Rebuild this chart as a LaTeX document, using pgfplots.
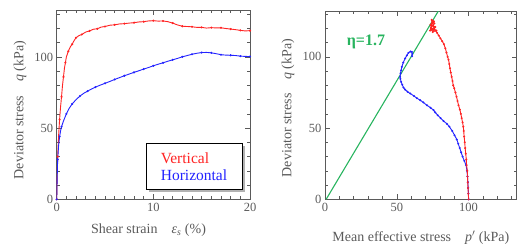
\documentclass[border=0pt]{standalone}
\usepackage{pgfplots}
\pgfplotsset{compat=1.18}
\usepackage{fontspec}
\setmainfont{Liberation Serif}
\usetikzlibrary{shadows}
\definecolor{txt}{RGB}{90,90,90}
\definecolor{vred}{RGB}{255,35,35}
\definecolor{hblue}{RGB}{35,35,255}
\definecolor{cslg}{RGB}{40,180,95}
\begin{document}
\begin{tikzpicture}
\path[use as bounding box] (0pt,0pt) rectangle (519pt,244pt);
\pgfplotsset{
  every axis/.append style={
    scale only axis,
    axis line style={txt, line width=0.8pt},
    tick style={txt, line width=0.6pt},
    tick align=inside, tick pos=both,
    major tick length=5pt, minor tick length=3pt,
    ticklabel style={font=\fontsize{12.5}{13}\selectfont, text=txt},
    /pgf/number format/assume math mode=true,
    label style={font=\fontsize{14}{15}\selectfont, text=txt},
    clip=true,
  }
}
% ---------- left: q vs shear strain ----------
\begin{axis}[
  at={(56.7pt,44.7pt)}, anchor=south west,
  width=193.3pt, height=189.3pt,
  xmin=0, xmax=20, ymin=0, ymax=133,
  xtick={0,10,20}, minor xtick={1,2,...,19},
  ytick={0,50,100}, minor ytick={10,20,30,40,60,70,80,90,110,120,130},
  xlabel={Shear strain\quad \textit{ε}\textsubscript{\textit{s}} (\%)},
  ylabel={Deviator stress\quad \textit{q} (kPa)},
  xlabel style={at={(axis description cs:0.475,-0.162)}, anchor=center},
  ylabel style={at={(axis description cs:-0.19,0.472)}, anchor=center},
]
\addplot[vred, line width=0.9pt, mark=*, mark size=0.55pt, mark repeat=2] coordinates {
(0,0) (0.05,15) (0.1,30) (0.2,45) (0.3,56) (0.4,65) (0.5,72) (0.6,80) (0.7,86) (0.8,92) (0.9,96)
(1.0,100) (1.2,104) (1.4,107) (1.6,109) (1.8,111.5) (2.0,113.5) (2.3,115) (2.6,115.8) (3.0,117.5)
(3.4,118.3) (3.8,119.5) (4.2,119.8) (4.6,121) (5.0,121.4) (5.5,122.3) (6.0,122.6) (6.5,123.2)
(7.0,123.4) (7.5,123.8) (8.0,124.1) (8.5,124.6) (9.0,124.8) (9.5,125.3) (10.0,125.5) (10.5,125.2)
(11.0,125.3) (11.5,124.8) (12.0,123.8) (12.5,122.5) (13.0,121.6) (13.5,121.4) (14.0,121.2)
(14.5,120.8) (15.0,120.8) (15.5,120.3) (16.0,120.6) (16.5,120.4) (17.0,120.5) (17.5,120.0)
(18.0,119.6) (18.5,119.2) (19.0,118.7) (19.5,118.3) (20.0,118.5)
};
\addplot[hblue, line width=0.9pt, mark=*, mark size=0.55pt, mark repeat=2] coordinates {
(0,0) (0.05,15) (0.1,28) (0.2,38) (0.3,44) (0.4,48) (0.5,51) (0.7,55) (1.0,60) (1.3,64)
(1.6,67) (2.0,70) (2.4,72.5) (2.8,74.5) (3.2,76) (3.6,77.5) (4.0,78.8) (4.5,80.2) (5.0,81.5)
(5.5,82.8) (6.0,84.2) (6.5,85.5) (7.0,86.8) (7.5,88) (8.0,89.2) (8.5,90.3) (9.0,91.5) (9.5,92.6)
(10.0,93.8) (10.5,94.9) (11.0,95.9) (11.5,97) (12.0,98) (12.5,99) (13.0,100.1) (13.5,101)
(14.0,101.9) (14.5,102.6) (15.0,103.1) (15.5,103.2) (16.0,102.9) (16.5,102.3) (17.0,101.6)
(17.5,101.3) (18.0,101.2) (18.5,101.0) (19.0,100.6) (19.5,100.4) (20.0,100.3)
};
\end{axis}
% legend box
\node[draw=black, line width=0.6pt, fill=white, drop shadow={shadow xshift=2.5pt, shadow yshift=-2.5pt, fill=black!60},
      minimum width=96pt, minimum height=46pt, align=left, inner xsep=5pt,
      font=\fontsize{15.5}{17}\selectfont] at (194pt,77.5pt)
  {\textcolor{vred}{Vertical}\\\textcolor{hblue}{Horizontal}};
% ---------- right: q vs p' ----------
\begin{axis}[
  at={(325pt,44.7pt)}, anchor=south west,
  width=191.7pt, height=188pt,
  xmin=0, xmax=133.5, ymin=0, ymax=132,
  xtick={0,50,100}, minor xtick={10,20,30,40,60,70,80,90,110,120,130},
  ytick={0,50,100}, minor ytick={10,20,30,40,60,70,80,90,110,120,130},
  xlabel={Mean effective stress\quad \textit{p}$'$ (kPa)},
  ylabel={Deviator stress\quad \textit{q} (kPa)},
  xlabel style={at={(axis description cs:0.5,-0.206)}, anchor=center},
  ylabel style={at={(axis description cs:-0.193,0.486)}, anchor=center},
]
\addplot[cslg, line width=1.1pt] coordinates {(0.8,0) (80,134)};
\addplot[hblue, line width=0.9pt, mark=*, mark size=0.5pt] coordinates {
(100,0) (99.9,4) (99.7,8) (99.5,12) (99.2,16) (98.9,20) (98.2,24) (97,27) (95.8,30) (94.8,33)
(93.8,36) (92.8,39) (91.8,42) (90.2,45) (88.6,48) (86.6,51) (84.9,53) (82.5,55) (80.5,57)
(78.5,59) (76.8,61) (75.6,62.6) (73.5,64.3) (71,66) (68.5,68) (66.3,69.6) (64,71) (62,72.5)
(59.3,74.3) (57.5,75.5) (55.8,77) (54.6,78.5) (53.8,80.5) (53,82.5) (52.5,84.5) (52.3,86)
(52.6,88.5) (53,90.5) (53.5,93) (54.5,96) (55.8,98.9) (57,101) (58.1,102.8) (59.5,103.8)
(60.5,103.5) (60.8,102) (60.6,100.4)
};
\addplot[vred, line width=0.9pt, mark=*, mark size=0.5pt] coordinates {
(100,0) (99.8,4) (99.6,8) (99.4,12) (99.3,16) (99.1,20) (98.6,24) (98.4,28) (98,32) (97.6,36)
(97.3,40) (96.9,44) (96.6,48) (96.3,51) (95.8,54) (95.2,57) (94.6,60) (93.9,63) (93,66)
(92.3,69) (91.6,72) (90.8,75) (90,78) (89.3,80) (88.8,83) (88.2,86) (87.6,89) (87,92)
(86.6,95) (86,98) (85.4,100) (84.6,103) (83.8,106) (82.8,109) (81.6,111) (80.4,113)
(79.2,115) (78,117) (77,118.5) (76,120) (75.3,122) (74.8,124) (74.3,126) (75.8,125)
(73.5,122.5) (76.8,121) (74,119.5) (77.5,118.5) (75,117.5) (73.8,120.5) (76.2,123.5)
(74.6,125.5) (73.2,118.5) (75.5,119)
};
\node[text=cslg, font=\bfseries\fontsize{16}{17}\selectfont] at (axis cs:28.5,110.3) {η=1.7};
\end{axis}
\end{tikzpicture}
\end{document}
